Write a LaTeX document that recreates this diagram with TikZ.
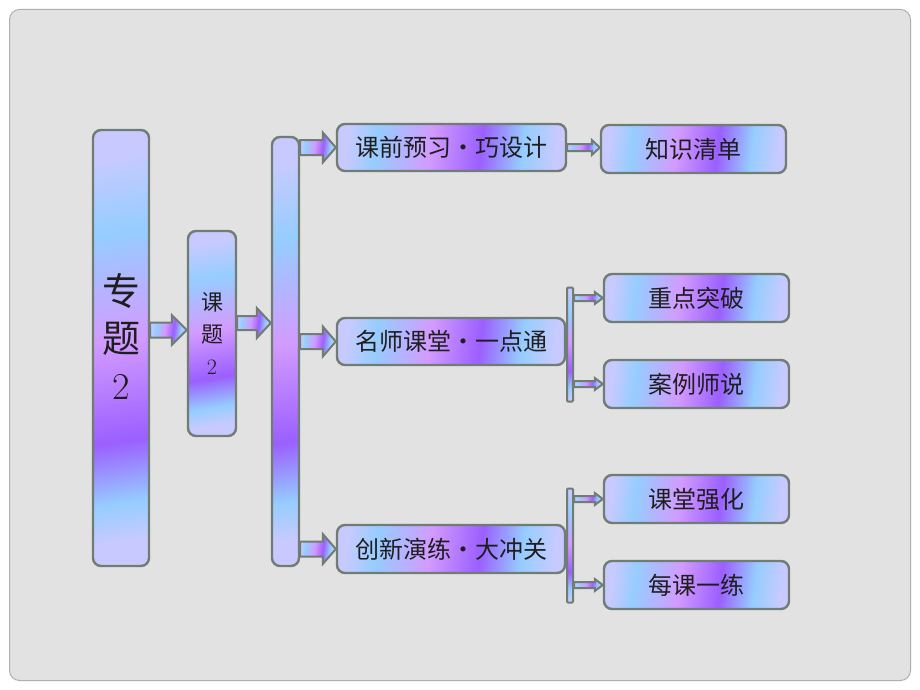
\documentclass[tikz,border=0pt]{standalone}
\usepackage{fontspec}
\newfontfamily\cjk{Noto Sans CJK SC}
\usetikzlibrary{calc}
\definecolor{cA}{RGB}{200,202,255}
\definecolor{cB}{RGB}{150,205,255}
\definecolor{cC}{RGB}{210,155,255}
\definecolor{cD}{RGB}{155,95,255}
\definecolor{bordc}{RGB}{112,124,116}
\definecolor{bgc}{RGB}{226,226,226}
\definecolor{bgline}{RGB}{175,175,175}
\definecolor{txt}{RGB}{30,30,30}
\pgfdeclarehorizontalshading{grad}{100bp}{color(0bp)=(cA); color(25bp)=(cA); color(32bp)=(cB); color(45bp)=(cC); color(57bp)=(cD); color(67bp)=(cB); color(75bp)=(cA); color(100bp)=(cA)}
\pgfdeclarehorizontalshading{vgrad}{100bp}{color(0bp)=(cA); color(25bp)=(cA); color(35bp)=(cB); color(49bp)=(cC); color(62bp)=(cD); color(70bp)=(cB); color(75bp)=(cA); color(100bp)=(cA)}
\newcommand\sepdot{\makebox[1em]{•}}
\tikzset{
  hbox/.style={draw=bordc, line width=2.4pt, rounded corners=8pt, shade, shading=grad, shading angle=-7,
    text=txt, font=\cjk\fontsize{24}{28}\selectfont, inner sep=0pt},
  vbox/.style={hbox, shading=vgrad, shading angle=-81},
  sbar/.style={draw=bordc, line width=2pt, rounded corners=1pt, shade, shading=vgrad, shading angle=-88, inner sep=0pt},
  arr/.style={draw=bordc, line width=2pt, shade, shading=grad, shading angle=-7, line join=miter},
  bigtxt/.style={text=txt, font=\cjk\fontsize{38}{47}\selectfont, align=center, inner sep=0pt},
}
\newcommand\blockarrow[5]{\path[arr] let \p1=(#1), \p2=(#2) in
  (\x1,\y1+#3) -- (\x2-#5,\y1+#3) -- (\x2-#5,\y1+#4) -- (\x2,\y1) -- (\x2-#5,\y1-#4) -- (\x2-#5,\y1-#3) -- (\x1,\y1-#3) -- cycle;}
\begin{document}
\begin{tikzpicture}[x=1pt, y=-1pt]
\useasboundingbox (0,0) rectangle (920,690);
\fill[white] (0,0) rectangle (920,690);
\draw[fill=bgc, draw=bgline, line width=1pt, rounded corners=10pt] (9.5,9.5) rectangle (910.5,680.5);

% boxes
\node[vbox, minimum width=56pt, minimum height=436pt] (zt) at (121,348) {};
\node[bigtxt] (ztt) at ($(zt.center)+(0,-12)$) {专\\题\\{\rmfamily 2}};
\node[vbox, minimum width=48pt, minimum height=205pt, align=center, font=\cjk\fontsize{22}{32}\selectfont] (kt) at (212,333.5) {课\\题\\{\rmfamily 2}};
\node[vbox, minimum width=27pt, minimum height=429pt] (bar) at (285.5,351.5) {};

\node[hbox, minimum width=229pt, minimum height=47pt] (b1) at (451.5,147.5) {课前预习\sepdot 巧设计};
\node[hbox, minimum width=228pt, minimum height=47pt] (b2) at (451,341.5) {名师课堂\sepdot 一点通};
\node[hbox, minimum width=228pt, minimum height=48pt] (b3) at (451,549) {创新演练\sepdot 大冲关};

\node[hbox, minimum width=185pt, minimum height=48pt] (c1) at (693.5,149) {知识清单};
\node[sbar, minimum width=6pt, minimum height=114pt] (sb1) at (570,344.5) {};
\node[hbox, minimum width=185pt, minimum height=48pt] (c2) at (696.5,298) {重点突破};
\node[hbox, minimum width=185pt, minimum height=48pt] (c3) at (696.5,384) {案例师说};
\node[sbar, minimum width=6pt, minimum height=114pt] (sb2) at (570,545.5) {};
\node[hbox, minimum width=185pt, minimum height=48pt] (c4) at (696.5,499) {课堂强化};
\node[hbox, minimum width=185pt, minimum height=48pt] (c5) at (696.5,585) {每课一练};

% connectors
\coordinate (a1e) at ($(kt.west)+(0,-3.5)$);
\blockarrow{zt.east |- a1e}{a1e}{7.5pt}{15pt}{15pt}
\coordinate (a2s) at ($(kt.east)+(0,-10.5)$);
\blockarrow{a2s}{bar.west |- a2s}{7pt}{15pt}{14pt}
\blockarrow{bar.east |- b1.west}{b1.west}{7.5pt}{15pt}{13pt}
\blockarrow{bar.east |- b2.west}{b2.west}{7.5pt}{15pt}{13pt}
\blockarrow{bar.east |- b3.west}{b3.west}{7.5pt}{15pt}{13pt}
\blockarrow{b1.east}{c1.west |- b1.east}{3.5pt}{7.5pt}{8pt}
\blockarrow{sb1.east |- c2.west}{c2.west}{3pt}{6pt}{8pt}
\blockarrow{sb1.east |- c3.west}{c3.west}{3pt}{6pt}{8pt}
\blockarrow{sb2.east |- c4.west}{c4.west}{3pt}{6pt}{8pt}
\blockarrow{sb2.east |- c5.west}{c5.west}{3pt}{6pt}{8pt}
\end{tikzpicture}
\end{document}
